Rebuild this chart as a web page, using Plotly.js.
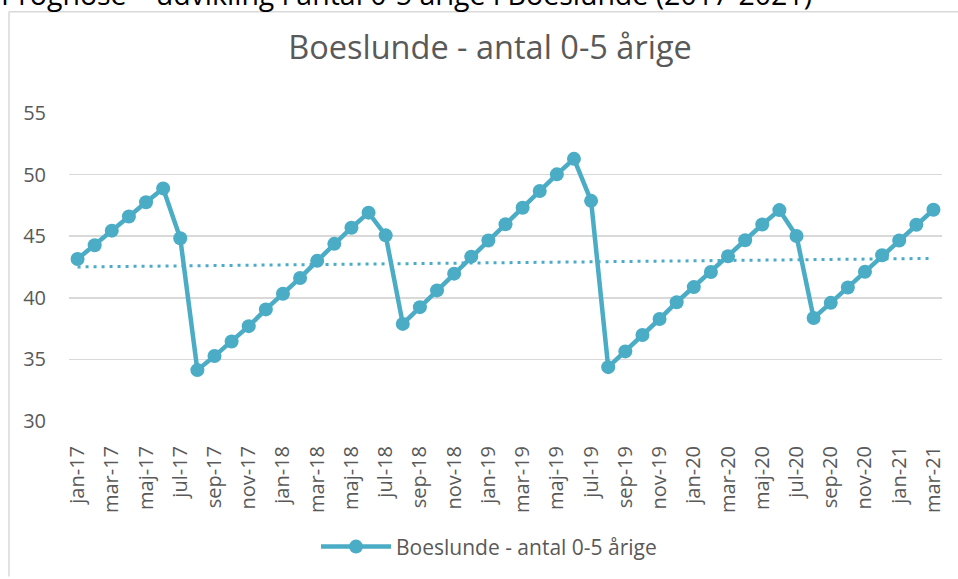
<!DOCTYPE html>
<html>
<head>
<meta charset="utf-8">
<script src="https://cdn.plot.ly/plotly-3.0.1.min.js"></script>
<style>
html,body{margin:0;padding:0;background:#fff;}
#chart{width:958px;height:579px;}
</style>
</head>
<body>
<div id="chart"></div>
<script>
const monthNames = ["jan","feb","mar","apr","maj","jun","jul","aug","sep","okt","nov","dec"];
const years = ["17","18","19","20","21"];
const months = [];
years.forEach(y => monthNames.forEach(m => { if (months.length < 51) months.push(m + "-" + y); }));

const values = [
  43.15, 44.27, 45.45, 46.6, 47.76, 48.88, 44.83, 34.13, 35.27, 36.45, 37.7, 39.06,
  40.33, 41.61, 43.0, 44.38, 45.69, 46.91, 45.07, 37.88, 39.24, 40.6, 41.96, 43.34,
  44.65, 45.97, 47.31, 48.67, 50.02, 51.28, 47.87, 34.37, 35.65, 36.98, 38.28, 39.64,
  40.87, 42.09, 43.37, 44.67, 45.95, 47.12, 45.02, 38.36, 39.59, 40.84, 42.12, 43.45,
  44.65, 45.93, 47.15
];

const seriesName = "Boeslunde - antal 0-5 årige";
const chartTitle = "Boeslunde - antal 0-5 årige";
const headerText = "Prognose \u2013 udvikling i antal 0-5 årige i Boeslunde (2017-2021)";
const yTicks = [30, 35, 40, 45, 50, 55];
const tickMonths = months.filter((m, i) => i % 2 === 0);

// linear trend (least squares over month index)
const n = values.length;
let sx = 0, sy = 0, sxx = 0, sxy = 0;
values.forEach((v, i) => { sx += i; sy += v; sxx += i * i; sxy += i * v; });
const slope = (n * sxy - sx * sy) / (n * sxx - sx * sx);
const intercept = (sy - slope * sx) / n;
const trend = values.map((v, i) => intercept + slope * i);

const color = "#4BACC6";
const L = 69, R = 16, T = 113, B = 153;
const W = 958, H = 579;
const pw = W - L - R, ph = H - T - B;
const px2x = p => (p - L) / pw;
const py2y = p => (H - B - p) / ph;

const data = [
  {
    x: months, y: trend, type: "scatter", mode: "lines",
    line: {color: color, width: 3, dash: "3px,5px"},
    showlegend: false, hoverinfo: "skip"
  },
  {
    x: months, y: values, type: "scatter", mode: "lines+markers",
    name: seriesName,
    line: {color: color, width: 4.5},
    marker: {color: color, size: 14}
  }
];

const layout = {
  width: W, height: H,
  margin: {l: L, r: R, t: T, b: B, pad: 0},
  paper_bgcolor: "#fff", plot_bgcolor: "#fff",
  font: {family: "Open Sans, sans-serif", color: "#595959", size: 20},
  title: {
    text: chartTitle,
    font: {family: "Open Sans, sans-serif", size: 32.5, color: "#595959"},
    x: px2x(490), xref: "paper", xanchor: "center",
    y: 1 - 48 / H, yref: "container", yanchor: "middle"
  },
  xaxis: {
    type: "category", categoryorder: "array", categoryarray: months,
    range: [-0.5, months.length - 0.5],
    tickmode: "array", tickvals: tickMonths, ticktext: tickMonths,
    tickangle: -90, showgrid: false, showline: false, zeroline: false,
    ticks: "", ticklabelstandoff: 20,
    tickfont: {size: 20, color: "#595959"}
  },
  yaxis: {
    range: [30, 55], tickmode: "array", tickvals: yTicks,
    showgrid: true, gridcolor: "#d9d9d9", gridwidth: 1.5,
    zeroline: false, showline: false, ticks: "", ticklabelstandoff: 22,
    tickfont: {size: 20, color: "#595959"}
  },
  legend: {
    orientation: "h", x: px2x(489), xanchor: "center",
    y: py2y(554), yanchor: "middle",
    itemwidth: 70,
    font: {size: 21, color: "#595959"}
  },
  annotations: [{
    text: headerText, xref: "paper", yref: "paper",
    x: px2x(-1), xanchor: "left", y: py2y(-7.5), yanchor: "middle",
    showarrow: false, font: {family: "Open Sans, sans-serif", size: 28.5, color: "#000"}
  }],
  shapes: [
    {type: "line", xref: "paper", yref: "paper", x0: px2x(9), x1: px2x(9), y0: py2y(10), y1: py2y(H + 5),
     line: {color: "#d9d9d9", width: 1.5}},
    {type: "line", xref: "paper", yref: "paper", x0: px2x(9), x1: px2x(W + 5), y0: py2y(10), y1: py2y(10),
     line: {color: "#d9d9d9", width: 1.5}}
  ],
  hovermode: false
};

Plotly.newPlot("chart", data, layout, {displayModeBar: false, staticPlot: true});
</script>
</body>
</html>
